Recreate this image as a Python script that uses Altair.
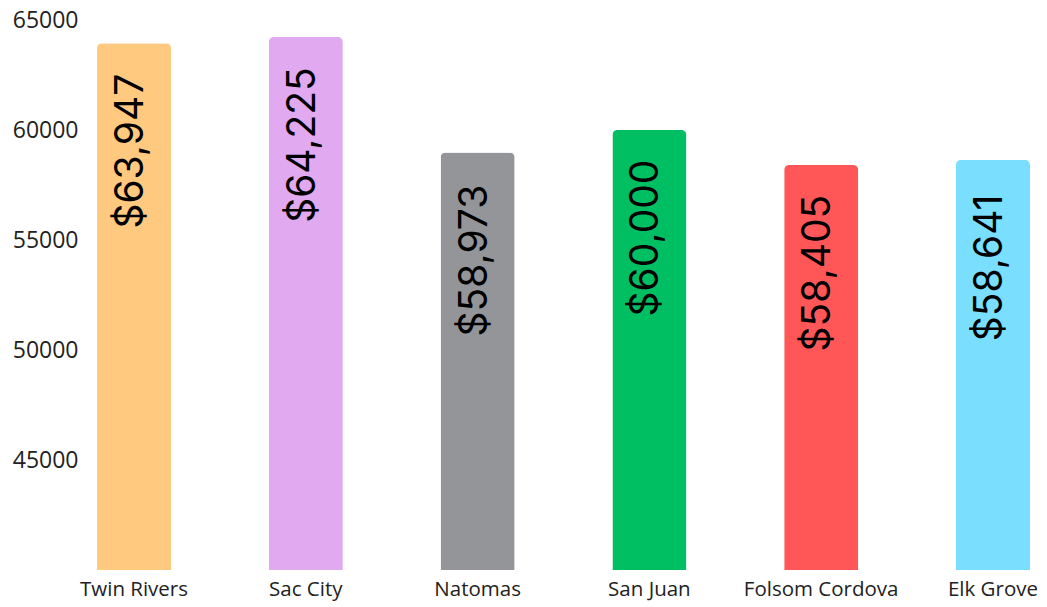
import altair as alt
import pandas as pd

districts = ["Twin Rivers", "Sac City", "Natomas", "San Juan", "Folsom Cordova", "Elk Grove"]
salaries = [63947, 64225, 58973, 60000, 58405, 58641]
colors = ["#FFC97F", "#E1A9EF", "#939598", "#00BF63", "#FF5757", "#7ADFFF"]
y_ticks = [45000, 50000, 55000, 60000, 65000]

df = pd.DataFrame({"district": districts, "salary": salaries})
df["label"] = ["${:,}".format(v) for v in salaries]

x = alt.X("district:N", sort=districts, title=None,
          scale=alt.Scale(paddingInner=0.569, paddingOuter=0.0524),
          axis=alt.Axis(labelAngle=0, ticks=False, domain=False, labelFontSize=20.5,
                        labelFont="Open Sans", labelColor="#222222", labelPadding=9))
y = alt.Y("salary:Q", title=None,
          scale=alt.Scale(domain=[40000, 65000], nice=False, zero=False, clamp=True),
          axis=alt.Axis(values=y_ticks, grid=False, ticks=False, domain=False,
                        labelFontSize=23, labelFont="Open Sans", labelColor="#222222",
                        labelPadding=10, format="d"))

bars = alt.Chart(df).mark_bar(cornerRadiusTopLeft=5, cornerRadiusTopRight=5).encode(
    x=x, y=y,
    color=alt.Color("district:N", scale=alt.Scale(domain=districts, range=colors), legend=None),
)

labels = alt.Chart(df).mark_text(angle=270, align="center", baseline="middle", dx=-108, dy=-3,
                                 fontSize=39, font="Inter", color="#000000").encode(
    x=alt.X("district:N", sort=districts),
    y=alt.Y("salary:Q"),
    text="label:N",
)

chart = (bars + labels).properties(
    width=951, height=550,
    autosize=alt.AutoSizeParams(type="none"),
    padding={"left": 80, "top": 12, "right": 0, "bottom": 33},
).configure_view(stroke=None)

chart.save("out.html", embed_options={"renderer": "svg", "actions": False})
